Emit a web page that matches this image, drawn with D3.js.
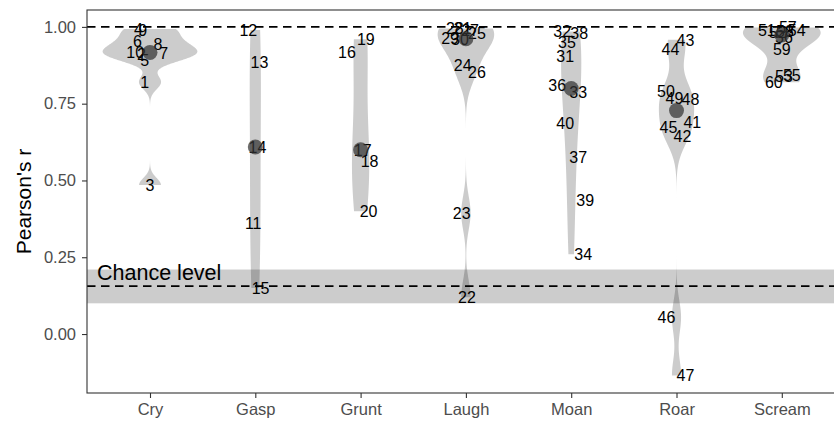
<!DOCTYPE html>
<html>
<head>
<meta charset="utf-8">
<script src="https://cdn.jsdelivr.net/npm/d3@7"></script>
<style>
  body { margin: 0; background: #fff; }
  svg { font-family: "Liberation Sans", Arial, Helvetica, sans-serif; display: block; }
</style>
</head>
<body>
<svg width="834" height="421"></svg>
<script>
// categories
var cats = ["Cry", "Gasp", "Grunt", "Laugh", "Moan", "Roar", "Scream"];

// stimulus id, category, correlation, horizontal jitter (category units)
var stimId = d3.range(1, 61);
var stimCat = [
  "Cry","Cry","Cry","Cry","Cry","Cry","Cry","Cry","Cry","Cry",
  "Gasp","Gasp","Gasp","Gasp","Gasp",
  "Grunt","Grunt","Grunt","Grunt","Grunt",
  "Laugh","Laugh","Laugh","Laugh","Laugh","Laugh","Laugh","Laugh","Laugh","Laugh",
  "Moan","Moan","Moan","Moan","Moan","Moan","Moan","Moan","Moan","Moan",
  "Roar","Roar","Roar","Roar","Roar","Roar","Roar","Roar","Roar","Roar",
  "Scream","Scream","Scream","Scream","Scream","Scream","Scream","Scream","Scream","Scream"
];
var stimR = [
  0.82, 0.912, 0.485, 0.993, 0.892, 0.954, 0.915, 0.945, 0.99, 0.919,
  0.361, 0.99, 0.886, 0.609, 0.15,
  0.919, 0.60, 0.564, 0.96, 0.40,
  0.995, 0.12, 0.394, 0.876, 0.978, 0.853, 0.99, 0.995, 0.963, 0.96,
  0.906, 0.985, 0.788, 0.26, 0.951, 0.811, 0.577, 0.98, 0.436, 0.687,
  0.69, 0.645, 0.958, 0.928, 0.674, 0.055, -0.135, 0.765, 0.768, 0.79,
  0.99, 0.982, 0.84, 0.99, 0.843, 0.965, 0.998, 0.985, 0.928, 0.82
];
var stimJit = [
  -0.05, -0.08, 0, -0.11, -0.05, -0.12, 0.13, 0.076, -0.07, -0.14,
  -0.02, -0.066, 0.04, 0.02, 0.05,
  -0.13, 0.02, 0.085, 0.05, 0.076,
  -0.03, 0.01, -0.04, -0.03, 0.105, 0.105, 0.04, -0.105, -0.15, -0.057,
  -0.057, -0.085, 0.066, 0.114, -0.04, -0.133, 0.066, 0.076, 0.133, -0.057,
  0.15, 0.057, 0.085, -0.057, -0.076, -0.095, 0.085, 0.133, -0.02, -0.10,
  -0.142, -0.04, 0.02, 0.142, 0.095, 0.02, 0.057, 0.03, 0, -0.076
];

var yTicks = [0, 0.25, 0.5, 0.75, 1];
var chance = 0.156, chanceLo = 0.10, chanceHi = 0.21;
var ceiling = 1;

var svg = d3.select("svg");
var pL = 87, pT = 10, pB = 393, pR = 845;

var step = 105.3;
var x = d3.scalePoint().domain(cats).range([150, 150 + step * 6]);
var y = d3.scaleLinear().domain([-0.192, 1.055]).range([pB, pT]);

var pts = stimId.map(function(id, i){
  return {id: id, cat: stimCat[i], r: stimR[i], jit: stimJit[i]};
});
var groups = d3.group(pts, function(d){ return d.cat; });

// R-style density (gaussian, bw.nrd0, trimmed to data range)
function bwNrd0(v){
  var s = d3.deviation(v);
  var srt = v.slice().sort(d3.ascending);
  var iqr = d3.quantileSorted(srt, 0.75) - d3.quantileSorted(srt, 0.25);
  var lo = Math.min(s, iqr / 1.34);
  if (!lo) lo = s || Math.abs(srt[0]) || 1;
  return 0.9 * lo * Math.pow(v.length, -0.2);
}
function kde(v){
  var bw = bwNrd0(v), n = 512;
  var lo = d3.min(v), hi = d3.max(v);
  return d3.range(n).map(function(k){
    var t = lo + (hi - lo) * k / (n - 1);
    var s = 0;
    v.forEach(function(xi){
      var z = (t - xi) / bw;
      s += Math.exp(-0.5 * z * z);
    });
    return {v: t, d: s / (v.length * bw * Math.sqrt(2 * Math.PI))};
  });
}

var dens = cats.map(function(c){
  return {cat: c, pts: kde(groups.get(c).map(function(d){ return d.r; }))};
});
var maxD = d3.max(dens, function(g){ return d3.max(g.pts, function(p){ return p.d; }); });
var half = 0.45 * step;

var plot = svg.append("g");
plot.append("clipPath").attr("id", "clip").append("rect")
  .attr("x", pL).attr("y", pT).attr("width", pR - pL).attr("height", pB - pT);
var inner = plot.append("g").attr("clip-path", "url(#clip)");

// chance band
inner.append("rect")
  .attr("x", pL).attr("width", pR - pL)
  .attr("y", y(chanceHi)).attr("height", y(chanceLo) - y(chanceHi))
  .attr("fill", "#000").attr("fill-opacity", 0.2);

// violins
inner.selectAll("path.violin").data(dens).enter().append("path")
  .attr("class", "violin")
  .attr("fill", "#000").attr("fill-opacity", 0.2)
  .attr("d", function(g){
    var cx = x(g.cat);
    return d3.area()
      .y(function(p){ return y(p.v); })
      .x0(function(p){ return cx - p.d / maxD * half; })
      .x1(function(p){ return cx + p.d / maxD * half; })(g.pts);
  });

// dashed reference lines
inner.selectAll("line.ref").data([ceiling, chance]).enter().append("line")
  .attr("class", "ref")
  .attr("x1", pL).attr("x2", pR)
  .attr("y1", function(d){ return y(d); }).attr("y2", function(d){ return y(d); })
  .attr("stroke", "#000").attr("stroke-width", 1.7).attr("stroke-dasharray", "8.5,5.5");

// chance label
inner.append("text")
  .attr("x", x("Cry") - 0.503 * step).attr("y", y(0.199))
  .attr("dy", "0.35em")
  .attr("font-size", 21.5).attr("fill", "#000")
  .text("Chance level");

// stimulus labels
inner.selectAll("text.lab").data(pts).enter().append("text")
  .attr("class", "lab")
  .attr("x", function(d){ return x(d.cat) + d.jit * step; })
  .attr("y", function(d){ return y(d.r); })
  .attr("dy", "0.36em")
  .attr("text-anchor", "middle")
  .attr("font-size", 16).attr("fill", "#000")
  .text(function(d){ return d.id; });

// medians
inner.selectAll("circle.med").data(cats).enter().append("circle")
  .attr("class", "med")
  .attr("cx", function(c){ return x(c); })
  .attr("cy", function(c){ return y(d3.median(groups.get(c), function(d){ return d.r; })); })
  .attr("r", 7.5)
  .attr("fill", "#333").attr("fill-opacity", 0.72);

// panel border
plot.append("rect")
  .attr("x", pL).attr("y", pT).attr("width", pR - pL).attr("height", pB - pT)
  .attr("fill", "none").attr("stroke", "#333").attr("stroke-width", 1.1);

// axes
var yAxis = d3.axisLeft(y).tickValues(yTicks).tickFormat(d3.format(".2f")).tickSize(5).tickPadding(6);
var gy = svg.append("g").attr("transform", "translate(" + pL + ",0)").call(yAxis);
var xAxis = d3.axisBottom(x).tickSize(5).tickPadding(5);
var gx = svg.append("g").attr("transform", "translate(0," + pB + ")").call(xAxis);
[gy, gx].forEach(function(g){
  g.select(".domain").remove();
  g.selectAll(".tick line").attr("stroke", "#333").attr("stroke-width", 1.1);
  g.selectAll(".tick text").attr("fill", "#4d4d4d").attr("font-size", 16.5)
    .attr("font-family", "'Liberation Sans', Arial, sans-serif");
});

svg.append("text")
  .attr("transform", "translate(31," + ((pT + pB) / 2) + ") rotate(-90)")
  .attr("text-anchor", "middle")
  .attr("font-size", 21).attr("fill", "#000")
  .text("Pearson's r");
</script>
</body>
</html>
